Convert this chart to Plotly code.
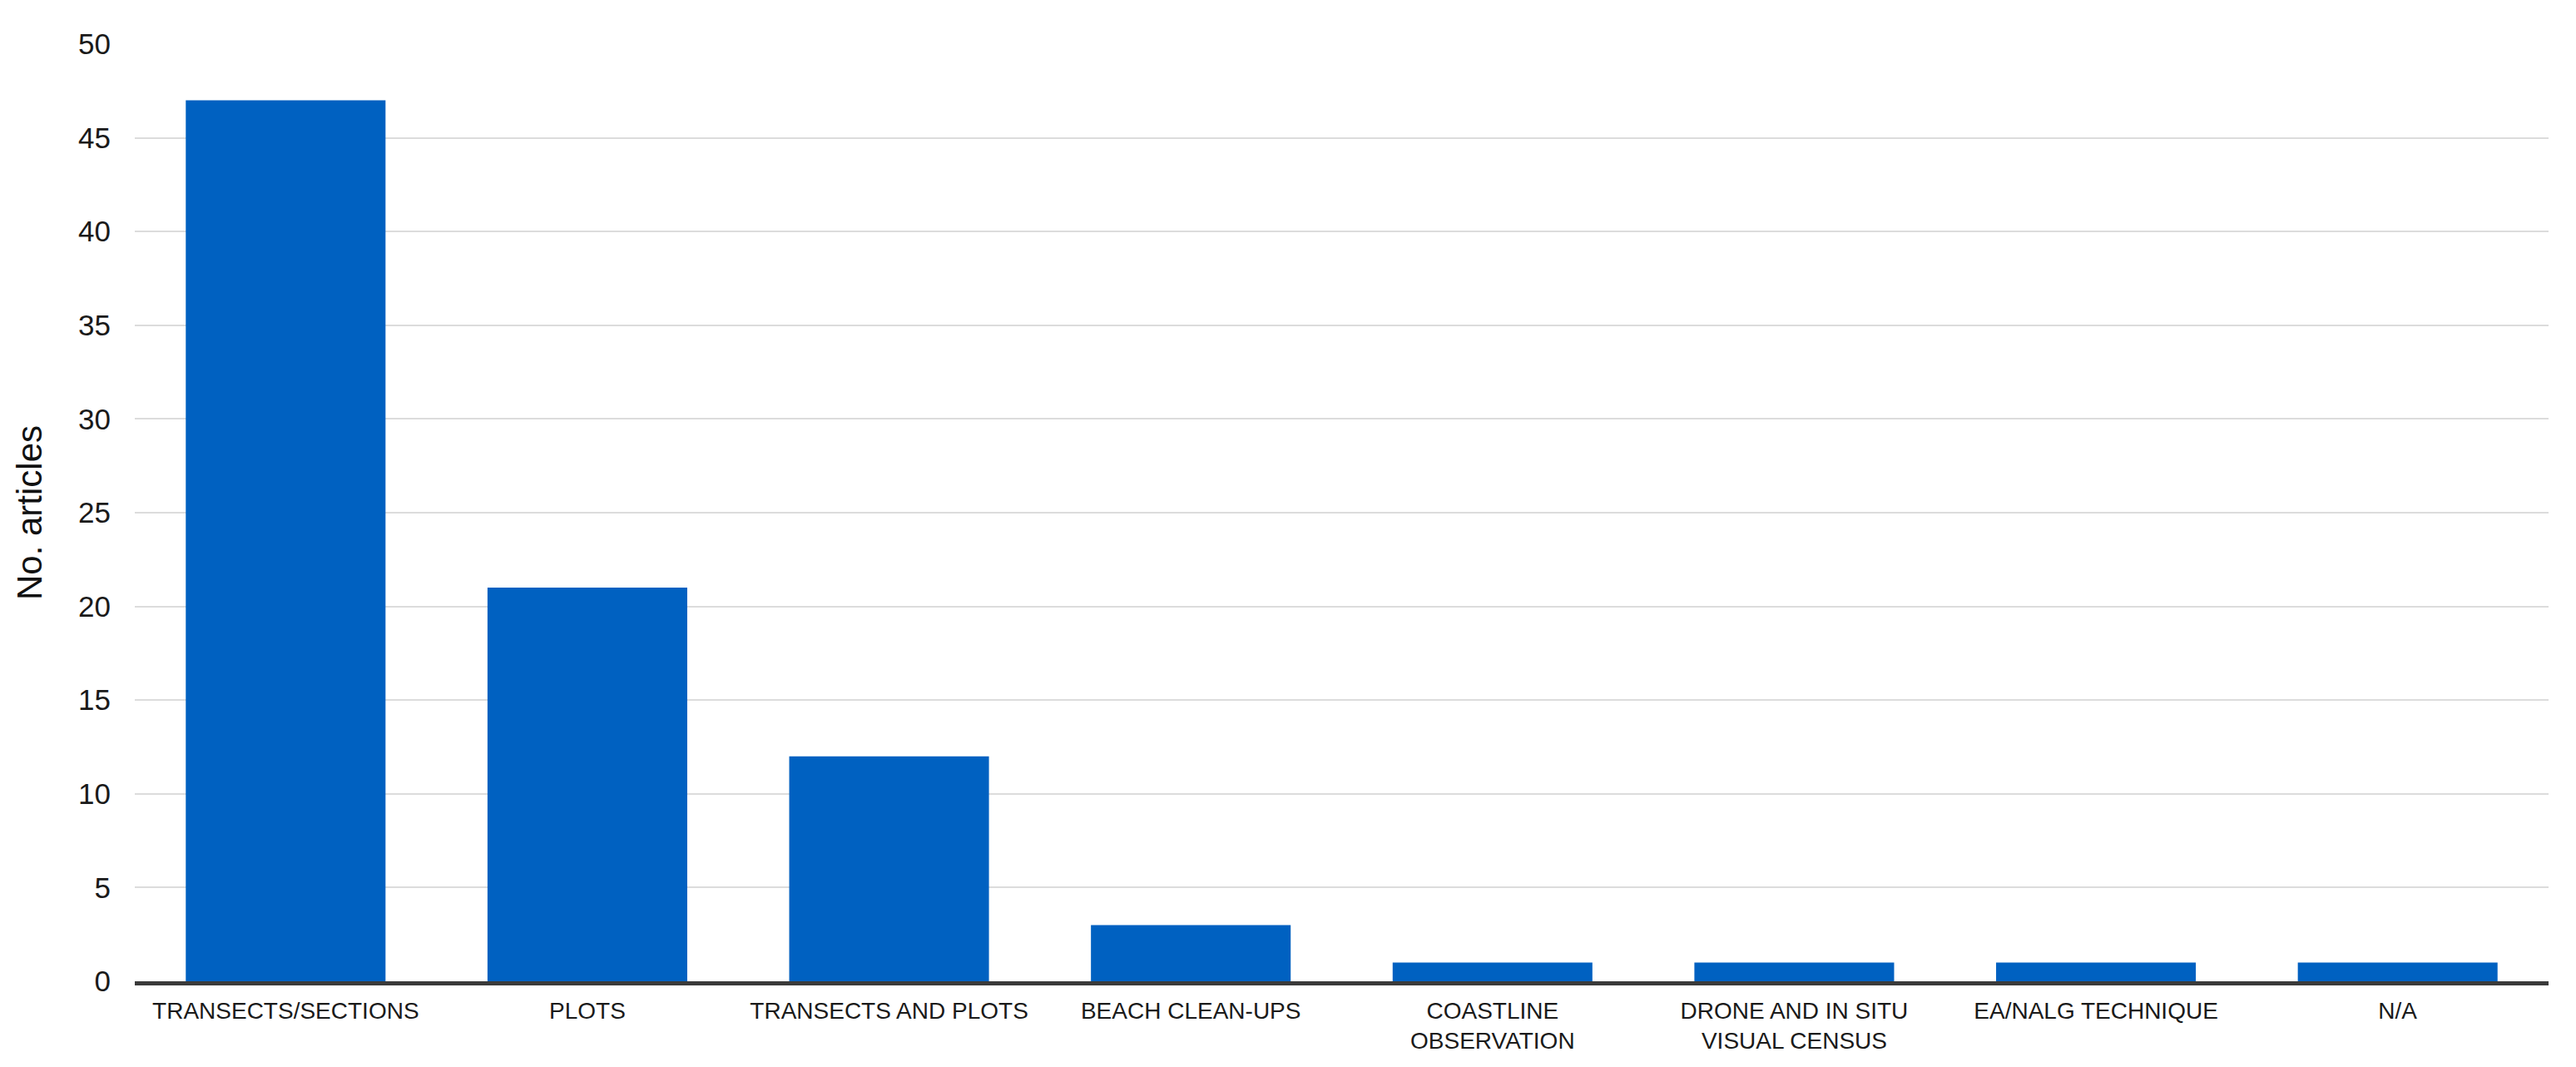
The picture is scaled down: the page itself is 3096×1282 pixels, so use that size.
import plotly.graph_objects as go

METHODS = [
    "TRANSECTS/SECTIONS",
    "PLOTS",
    "TRANSECTS AND PLOTS",
    "BEACH CLEAN-UPS",
    "COASTLINE<br>OBSERVATION",
    "DRONE AND IN SITU<br>VISUAL CENSUS",
    "EA/NALG TECHNIQUE",
    "N/A",
]
ARTICLES = [47, 21, 12, 3, 1, 1, 1, 1]
Y_TICKS = [0, 5, 10, 15, 20, 25, 30, 35, 40, 45, 50]

BAR_COLOR = "#0061c1"
FONT = "Liberation Sans, Arial, sans-serif"

fig = go.Figure()
fig.add_bar(x=METHODS, y=ARTICLES, marker=dict(color=BAR_COLOR, line=dict(width=0)))

# page body adds an 8px offset, so the figure is a bit smaller than the window
fig.update_layout(
    width=3088,
    height=1274,
    margin=dict(l=154, r=33, t=45, b=103),
    paper_bgcolor="white",
    plot_bgcolor="white",
    bargap=0.338,
    showlegend=False,
    font=dict(family=FONT, color="#222222"),
)
fig.update_xaxes(
    automargin=False,
    showgrid=False,
    showline=True,
    linecolor="#3a3a3a",
    linewidth=5,
    ticks="",
    tickfont=dict(size=28, color="#1a1a1a"),
    ticklabelstandoff=6,
)
fig.update_yaxes(
    automargin=False,
    range=[0, 50],
    tickvals=Y_TICKS,
    showgrid=True,
    gridcolor="#dcdcdc",
    gridwidth=2,
    zeroline=False,
    showline=False,
    ticks="",
    tickfont=dict(size=35, color="#1a1a1a"),
    ticklabelstandoff=28,
    title=dict(text="No. articles", font=dict(size=42, color="#111111"), standoff=30),
)

fig.write_html("out.html")
